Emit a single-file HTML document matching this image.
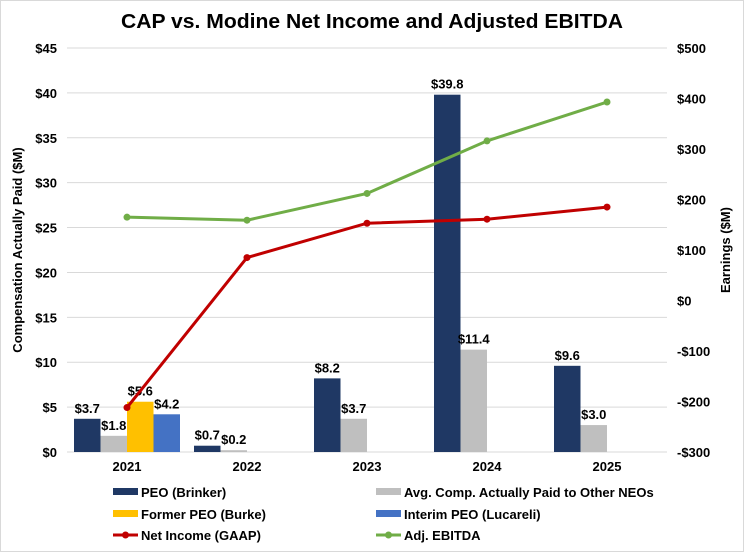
<!DOCTYPE html>
<html><head><meta charset="utf-8"><style>
body{margin:0;background:#fff;}
svg{display:block;font-family:"Liberation Sans",Arial,sans-serif;}
</style></head><body>
<svg id="chart" width="744" height="552" viewBox="0 0 744 552">
<rect x="0.5" y="0.5" width="743" height="551" fill="#fff" stroke="#d9d9d9"/>
<text x="121" y="28" textLength="502" lengthAdjust="spacingAndGlyphs" font-size="20" font-weight="bold" fill="#000">CAP vs. Modine Net Income and Adjusted EBITDA</text>
<g id="grid"></g><g id="bars"></g><g id="lines"></g><g id="axes"></g><g id="legend"></g>
</svg>
<script>
const categories=["2021","2022","2023","2024","2025"];
const peoBrinker=[3.7,0.7,8.2,39.8,9.6];
const otherNeos=[1.8,0.2,3.7,11.4,3.0];
const formerPeo=[5.6,null,null,null,null];
const interimPeo=[4.2,null,null,null,null];
const netIncome=[-212,85,153,161,185];
const adjEbitda=[165,159,212,316,393];
const leftTicks=[0,5,10,15,20,25,30,35,40,45];
const rightTicks=[-300,-200,-100,0,100,200,300,400,500];

const NS="http://www.w3.org/2000/svg";
const X0=67,X1=667,TOP=48,BOT=452;
const yL=v=>BOT-(v/45)*(BOT-TOP);
const yR=v=>BOT-((v+300)/800)*(BOT-TOP);
const band=(X1-X0)/categories.length;
const xC=i=>X0+band*(i+0.5);
function mk(tag,attrs,parent,txt){const e=document.createElementNS(NS,tag);for(const k in attrs)e.setAttribute(k,attrs[k]);if(txt!=null)e.textContent=txt;document.getElementById(parent).appendChild(e);return e;}
leftTicks.forEach(t=>{
  const l=mk('line',{x1:X0,x2:X1,y1:yL(t),y2:yL(t),stroke:'#d9d9d9','stroke-width':1},'grid');
  
  
  const tx=mk('text',{x:57,y:yL(t)+5,'text-anchor':'end','font-size':13,'font-weight':'bold'},'axes','$'+t);
  
  
});
rightTicks.forEach(t=>{
  const tx=mk('text',{x:677,y:yR(t)+5,'font-size':13,'font-weight':'bold'},'axes',(t<0?'-$'+(-t):'$'+t));
  
  
});
categories.forEach((c,i)=>{
  const tx=mk('text',{x:xC(i),y:471,'text-anchor':'middle','font-size':13,'font-weight':'bold'},'axes',c);
  
  
});
let t1=mk('text',{transform:'translate(22,250) rotate(-90)','text-anchor':'middle','font-size':13,'font-weight':'bold'},'axes','Compensation Actually Paid ($M)');


let t2=mk('text',{transform:'translate(730,250) rotate(-90)','text-anchor':'middle','font-size':13,'font-weight':'bold'},'axes','Earnings ($M)');



const series=[[peoBrinker,'#1f3864','peo-brinker'],[otherNeos,'#bfbfbf','other-neos'],[formerPeo,'#ffc000','former-peo'],[interimPeo,'#4472c4','interim-peo']];
const bw=26.5;
series.forEach((s,si)=>{
  s[0].forEach((v,i)=>{
    if(v==null)return;
    const x=xC(i)-53+si*bw;
    const r=mk('rect',{x:x,y:yL(v),width:bw,height:BOT-yL(v),fill:s[1]},'bars');
    
    
    const t=mk('text',{x:x+bw/2,y:yL(v)-6,'text-anchor':'middle','font-size':13,'font-weight':'bold'},'bars','$'+v.toFixed(1));
    
    
  });
});
[[adjEbitda,'#70ad47','adj-ebitda'],[netIncome,'#c00000','net-income']].forEach(s=>{
  const pts=s[0].map((v,i)=>xC(i)+','+yR(v)).join(' ');
  const p=mk('polyline',{points:pts,fill:'none',stroke:s[1],'stroke-width':3},'lines');
  
  
  s[0].forEach((v,i)=>{
    const c=mk('circle',{cx:xC(i),cy:yR(v),r:3.5,fill:s[1]},'lines');
    
    
  });
});
const leg=[['PEO (Brinker)','#1f3864','bar',113,492],['Avg. Comp. Actually Paid to Other NEOs','#bfbfbf','bar',376,492],
['Former PEO (Burke)','#ffc000','bar',113,514],['Interim PEO (Lucareli)','#4472c4','bar',376,514],
['Net Income (GAAP)','#c00000','line',113,535],['Adj. EBITDA','#70ad47','line',376,535]];
leg.forEach(l=>{
  const g=mk('g',{},'legend');
  
  
  if(l[2]=='bar'){const r=document.createElementNS(NS,'rect');r.setAttribute('x',l[3]);r.setAttribute('y',l[4]-4);r.setAttribute('width',25);r.setAttribute('height',7);r.setAttribute('fill',l[1]);g.appendChild(r);}
  else{const ln=document.createElementNS(NS,'line');ln.setAttribute('x1',l[3]);ln.setAttribute('x2',l[3]+25);ln.setAttribute('y1',l[4]);ln.setAttribute('y2',l[4]);ln.setAttribute('stroke',l[1]);ln.setAttribute('stroke-width',3);g.appendChild(ln);
    const c=document.createElementNS(NS,'circle');c.setAttribute('cx',l[3]+12.5);c.setAttribute('cy',l[4]);c.setAttribute('r',3.5);c.setAttribute('fill',l[1]);g.appendChild(c);}
  const t=document.createElementNS(NS,'text');t.setAttribute('x',l[3]+28);t.setAttribute('y',l[4]+5);t.setAttribute('font-size',13);t.setAttribute('font-weight','bold');t.textContent=l[0];g.appendChild(t);
});
</script>
</body></html>
